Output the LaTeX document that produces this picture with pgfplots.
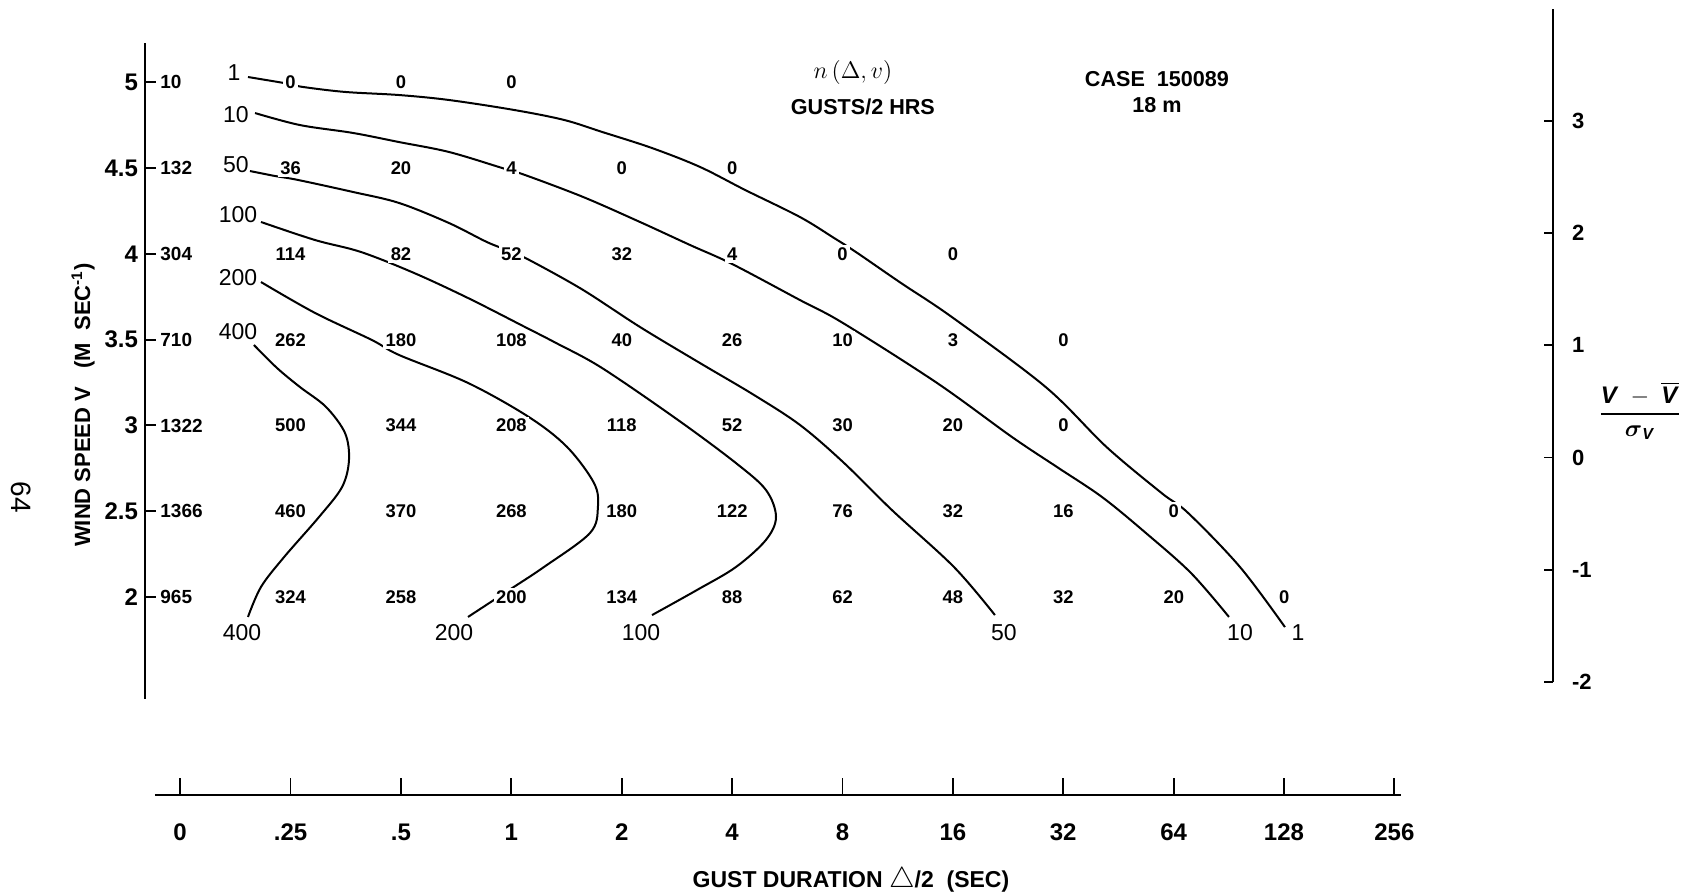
\documentclass[border=0pt]{standalone}
\usepackage{amsmath}
\usepackage{fontspec}
\setmainfont{Liberation Sans}
\usepackage{pgfplots}
\pgfplotsset{compat=1.18}
\usepackage{pgfplotstable}

% grid of counts n(Delta,V): column index c (1=.25 s ... 10=128 s), wind speed V
\pgfplotstableread{
c V n
1 5 0
2 5 0
3 5 0
1 4.5 36
2 4.5 20
3 4.5 4
4 4.5 0
5 4.5 0
1 4 114
2 4 82
3 4 52
4 4 32
5 4 4
6 4 0
7 4 0
1 3.5 262
2 3.5 180
3 3.5 108
4 3.5 40
5 3.5 26
6 3.5 10
7 3.5 3
8 3.5 0
1 3 500
2 3 344
3 3 208
4 3 118
5 3 52
6 3 30
7 3 20
8 3 0
1 2.5 460
2 2.5 370
3 2.5 268
4 2.5 180
5 2.5 122
6 2.5 76
7 2.5 32
8 2.5 16
9 2.5 0
1 2 324
2 2 258
3 2 200
4 2 134
5 2 88
6 2 62
7 2 48
8 2 32
9 2 20
10 2 0
}\gridtable

\pgfplotstableread{
c V n
-0.183 5 10
-0.183 4.5 132
-0.183 4 304
-0.183 3.5 710
-0.183 3 1322
-0.183 2.5 1366
-0.183 2 965
}\totaltable

\pgfplotstableread{
c V lab
0.487 5.054 1
0.505 4.810 10
0.505 4.518 50
0.524 4.227 100
0.524 3.860 200
0.524 3.545 400
0.560 1.790 400
2.480 1.790 200
4.174 1.790 100
7.462 1.790 50
9.600 1.790 10
10.125 1.790 1
}\contlabels

\pgfplotstableread{
c V
0.614 5.031
0.995 4.990
1.112 4.973
1.493 4.944
1.982 4.926
2.435 4.897
3.024 4.839
3.476 4.781
3.821 4.711
4.274 4.617
4.708 4.507
5.116 4.373
5.614 4.215
5.922 4.093
6.121 4.011
6.530 3.830
6.990 3.632
7.840 3.224
8.390 2.875
8.890 2.606
9.130 2.490
9.600 2.175
10.007 1.825
}\cone

\pgfplotstableread{
c V
0.678 4.821
1.085 4.751
1.565 4.705
1.982 4.652
2.435 4.594
2.915 4.501
3.123 4.460
3.649 4.332
4.165 4.186
4.618 4.052
5.000 3.941
5.614 3.731
6.004 3.597
6.855 3.248
7.534 2.933
7.942 2.758
8.350 2.583
8.748 2.373
9.156 2.140
9.500 1.884
}\cten

\pgfplotstableread{
c V
0.632 4.483
0.859 4.454
1.067 4.431
1.565 4.361
1.982 4.297
2.435 4.180
2.779 4.069
3.005 4.011
3.196 3.953
3.649 3.790
4.165 3.574
4.708 3.364
5.197 3.178
5.614 3.003
6.004 2.787
6.447 2.507
7.009 2.175
7.380 1.895
}\cfifty

\pgfplotstableread{
c V
0.732 4.186
1.221 4.081
1.638 4.011
2.118 3.889
2.607 3.743
3.123 3.574
3.404 3.481
3.821 3.335
4.509 3.032
5.034 2.781
5.306 2.624
5.397 2.467
5.306 2.333
5.034 2.175
4.681 2.041
4.274 1.895
}\chundred

\pgfplotstableread{
c V
0.732 3.836
1.221 3.656
1.737 3.498
1.982 3.411
2.607 3.248
3.159 3.049
3.504 2.875
3.748 2.665
3.784 2.525
3.712 2.373
3.295 2.175
2.951 2.029
2.607 1.884
}\ctwohundred

\pgfplotstableread{
c V
0.668 3.469
0.877 3.335
1.085 3.224
1.321 3.108
1.493 2.956
1.529 2.799
1.466 2.641
1.258 2.467
0.941 2.233
0.732 2.059
0.614 1.884
}\cfourhundred

\begin{document}
\begin{tikzpicture}
\path[use as bounding box] (-72.5pt,-97pt) rectangle (768.5pt,349.5pt);

% main axis: wind speed
\begin{axis}[
  at={(0pt,0pt)}, anchor=south west,
  scale only axis, width=704pt, height=328pt,
  xmin=-0.3188, xmax=12.4352, ymin=1.4058, ymax=5.2293,
  axis x line=none, axis y line=left,
  axis line style={-, line width=1.3pt, black},
  xtick=\empty,
  ytick={2,2.5,3,3.5,4,4.5,5},
  yticklabels={2,2.5,3,3.5,4,4.5,5},
  yticklabel style={font=\fontsize{12}{14}\selectfont\bfseries},
  tick align=inside,
  major tick length=5.5pt,
  tick style={line width=1pt, black},
  clip=false,
  contour/.style={black, line width=1pt, smooth, tension=0.55},
]
\addplot[contour] table[x=c,y=V] {\cone};
\addplot[contour] table[x=c,y=V] {\cten};
\addplot[contour] table[x=c,y=V] {\cfifty};
\addplot[contour] table[x=c,y=V] {\chundred};
\addplot[contour] table[x=c,y=V] {\ctwohundred};
\addplot[contour] table[x=c,y=V] {\cfourhundred};

\addplot[draw=none, nodes near coords, point meta=explicit symbolic,
  nodes near coords align={center},
  every node near coord/.append style={anchor=center, fill=white, inner sep=1.2pt,
    font=\fontsize{9.2}{11}\selectfont\bfseries}]
  table[x=c, y=V, meta=n] {\gridtable};

\addplot[draw=none, nodes near coords, point meta=explicit symbolic,
  nodes near coords align={west},
  every node near coord/.append style={anchor=west, inner sep=0pt,
    font=\fontsize{9.5}{11}\selectfont\bfseries}]
  table[x=c, y=V, meta=n] {\totaltable};

\addplot[draw=none, nodes near coords, point meta=explicit symbolic,
  nodes near coords align={center},
  every node near coord/.append style={anchor=center, inner sep=0pt,
    font=\fontsize{11.5}{13}\selectfont}]
  table[x=c, y=V, meta=lab] {\contlabels};

\node[rotate=90, font=\fontsize{11}{13}\selectfont\bfseries] at (axis cs:-0.880,3.119)
  {WIND SPEED V\ \ \ (M\ \ SEC\textsuperscript{-1})};
\node[rotate=-90, font=\fontsize{14}{16}\selectfont] at (axis cs:-1.442,2.583) {64};
\node[font=\fontsize{12}{14}\selectfont] at (axis cs:6.094,5.060) {$n\,(\Delta,v)$};
\node[font=\fontsize{10.8}{13}\selectfont\bfseries] at (axis cs:6.184,4.856) {GUSTS/2 HRS};
\node[font=\fontsize{10.8}{13}\selectfont\bfseries] at (axis cs:8.848,5.020) {CASE\ \ 150089};
\node[font=\fontsize{10.8}{13}\selectfont\bfseries] at (axis cs:8.848,4.868) {18 m};
\node[font=\fontsize{11.5}{13}\selectfont\bfseries] at (axis cs:6.076,0.351)
  {GUST DURATION {\Large$\triangle$}/2\ \ (SEC)};
\node[font=\fontsize{12}{14}\selectfont\bfseries] at (axis cs:13.223,3.084)
  {$\displaystyle\genfrac{}{}{1.1pt}{0}{\textbf{\textit{V}}\;-\;\overline{\textbf{\textit{V}}}}{\boldsymbol{\sigma}_{\textbf{\textit{V}}}}$};
\end{axis}

% bottom axis: gust duration
\begin{axis}[
  at={(5pt,-48pt)}, anchor=south west,
  scale only axis, width=623pt, height=10pt,
  xmin=-0.228, xmax=11.06, ymin=0, ymax=1,
  axis x line=bottom, axis y line=none,
  axis line style={-, line width=1pt, black},
  xtick={0,1,2,3,4,5,6,7,8,9,10,11},
  xticklabels={0,.25,.5,1,2,4,8,16,32,64,128,256},
  ytick=\empty,
  tick align=inside, major tick length=8.5pt,
  tick style={line width=0.9pt, black},
  xticklabel style={font=\fontsize{12}{14}\selectfont\bfseries, yshift=-11pt},
]
\end{axis}

% right axis: standardized wind speed
\begin{axis}[
  at={(704pt,8.5pt)}, anchor=south east,
  scale only axis, width=30pt, height=336.5pt,
  xmin=0, xmax=1, ymin=-2, ymax=3.997,
  axis y line=right, axis x line=none,
  axis line style={-, line width=1pt, black},
  xtick=\empty,
  ytick={-2,-1,0,1,2,3},
  yticklabels={-2,-1,0,1,2,3},
  tick align=inside, major tick length=4.5pt,
  tick style={line width=0.9pt, black},
  yticklabel style={font=\fontsize{11}{13}\selectfont\bfseries, xshift=6pt},
]
\end{axis}
\end{tikzpicture}
\end{document}
